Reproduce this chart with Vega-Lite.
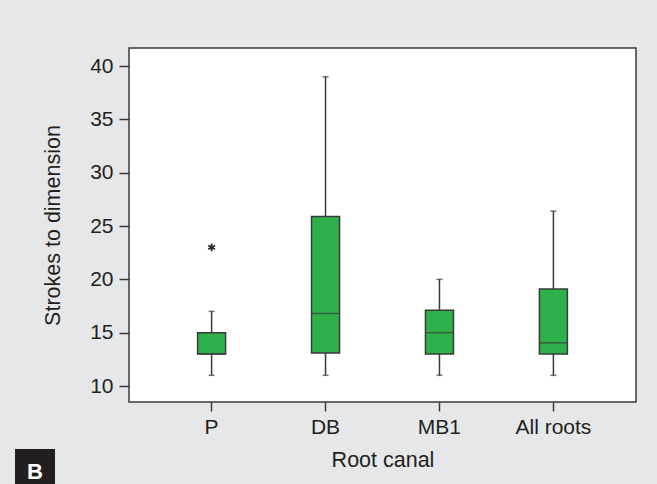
{
  "$schema": "https://vega.github.io/schema/vega-lite/v6.json",
  "width": 507,
  "height": 354,
  "autosize": "none",
  "padding": {"left": 129, "top": 48, "right": 21, "bottom": 82},
  "background": "#e6e7e9",
  "config": {
    "view": {"fill": "white", "stroke": "#3a3a3a", "strokeWidth": 1.5},
    "font": "Liberation Sans"
  },
  "datasets": {
    "boxes": [
      {"canal": "P", "min": 11, "q1": 13, "median": 13, "q3": 15, "max": 17},
      {"canal": "DB", "min": 11, "q1": 13.1, "median": 16.8, "q3": 25.9, "max": 39},
      {"canal": "MB1", "min": 11, "q1": 13, "median": 15, "q3": 17.1, "max": 20},
      {"canal": "All roots", "min": 11, "q1": 13, "median": 14.05, "q3": 19.1, "max": 26.4}
    ],
    "outliers": [
      {"canal": "P", "value": 23}
    ]
  },
  "encoding": {
    "x": {
      "field": "canal",
      "type": "nominal",
      "sort": ["P", "DB", "MB1", "All roots"],
      "scale": {"domain": ["P", "DB", "MB1", "All roots"], "paddingInner": 0, "paddingOuter": 0.225},
      "axis": {
        "title": "Root canal",
        "labelAngle": 0,
        "domain": false,
        "tickColor": "#3a3a3a",
        "tickSize": 9,
        "tickWidth": 1.5,
        "labelPadding": 5,
        "labelFontSize": 21,
        "labelColor": "#231f20",
        "titleFontSize": 21.5,
        "titleFontWeight": "normal",
        "titleColor": "#231f20",
        "titlePadding": 12
      }
    }
  },
  "layer": [
    {
      "data": {"name": "boxes"},
      "mark": {"type": "rule", "color": "#3a3a3a", "strokeWidth": 1.5},
      "encoding": {
        "y": {
          "field": "min",
          "type": "quantitative",
          "scale": {"domain": [8.5, 41.7], "nice": false, "zero": false},
          "axis": {
            "title": "Strokes to dimension",
            "values": [10, 15, 20, 25, 30, 35, 40],
            "grid": false,
            "domain": false,
            "tickColor": "#3a3a3a",
            "tickSize": 10,
            "tickWidth": 1.5,
            "labelPadding": 6,
            "labelFontSize": 21,
            "labelColor": "#231f20",
            "titleFontSize": 21.5,
            "titleFontWeight": "normal",
            "titleColor": "#231f20",
            "titlePadding": 25
          }
        },
        "y2": {"field": "max"}
      }
    },
    {
      "data": {"name": "boxes"},
      "mark": {"type": "tick", "color": "#3a3a3a", "size": 6, "thickness": 1.5, "orient": "horizontal"},
      "encoding": {"y": {"field": "min", "type": "quantitative"}}
    },
    {
      "data": {"name": "boxes"},
      "mark": {"type": "tick", "color": "#3a3a3a", "size": 6, "thickness": 1.5, "orient": "horizontal"},
      "encoding": {"y": {"field": "max", "type": "quantitative"}}
    },
    {
      "data": {"name": "boxes"},
      "mark": {"type": "bar", "size": 28, "stroke": "#3a3a3a", "strokeWidth": 1.5},
      "encoding": {
        "y": {"field": "q1", "type": "quantitative"},
        "y2": {"field": "q3"},
        "fill": {
          "datum": "B",
          "scale": {"range": ["#2eb14b"]},
          "legend": {
            "orient": "none",
            "legendX": -114,
            "legendY": 401,
            "title": null,
            "fillColor": "#231f20",
            "padding": 12,
            "symbolSize": 0,
            "symbolOpacity": 0,
            "symbolStrokeWidth": 0,
            "labelOffset": -22,
            "labelColor": "white",
            "labelFontSize": 22,
            "labelFontWeight": "bold"
          }
        }
      }
    },
    {
      "data": {"name": "boxes"},
      "mark": {"type": "tick", "color": "#3a3a3a", "size": 28, "thickness": 1.5, "orient": "horizontal"},
      "encoding": {"y": {"field": "median", "type": "quantitative"}}
    },
    {
      "data": {"name": "outliers"},
      "mark": {
        "type": "point",
        "shape": "M0,-1L0,1M-0.87,-0.5L0.87,0.5M-0.87,0.5L0.87,-0.5",
        "size": 60,
        "filled": false,
        "stroke": "#2a2a2a",
        "strokeWidth": 1.8,
        "opacity": 1
      },
      "encoding": {"y": {"field": "value", "type": "quantitative"}}
    }
  ]
}
